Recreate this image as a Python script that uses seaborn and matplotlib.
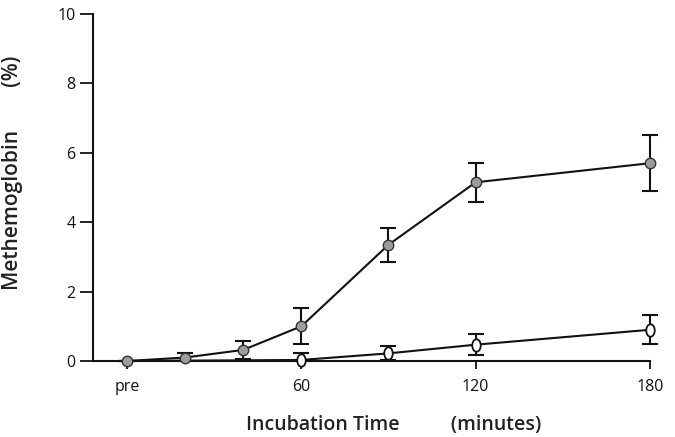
import numpy as np
import pandas as pd
import seaborn as sns
import matplotlib
matplotlib.use("Agg")
import matplotlib.pyplot as plt
from matplotlib.path import Path
from matplotlib.transforms import Affine2D

# Incubation time points (minutes); "pre" is plotted at 0
time_treated = [0, 20, 40, 60, 90, 120, 180]
metHb_treated = [0.0, 0.1, 0.32, 1.0, 3.35, 5.15, 5.7]
err_treated = [0.0, 0.12, 0.25, 0.52, 0.49, 0.57, 0.8]

time_control = [0, 60, 90, 120, 180]
metHb_control = [0.0, 0.03, 0.22, 0.47, 0.9]
err_control = [0.0, 0.2, 0.2, 0.3, 0.42]

tick_pos = [0, 60, 120, 180]
tick_labels = ["pre", "60", "120", "180"]
ytick_pos = [0, 2, 4, 6, 8, 10]

sns.set_theme(style="ticks")
plt.rcParams["font.family"] = ["Open Sans", "DejaVu Sans"]

fig = plt.figure(figsize=(6.75, 4.37), dpi=100)
ax = fig.add_axes([93 / 675, 1 - 361 / 437, (650 - 93) / 675, (361 - 14) / 437])

df_t = pd.DataFrame({"time": time_treated, "metHb": metHb_treated})
df_c = pd.DataFrame({"time": time_control, "metHb": metHb_control})


def bounded_err(mean, err):
    # lower whisker stops at the zero baseline
    lower = [min(e, m) for m, e in zip(mean, err)]
    return [lower, err]


# tall oval marker for the control series
oval = Path.unit_circle().transformed(Affine2D().scale(0.68, 1.0))

# control series (open ovals); the "pre" point sits under the grey marker
eb = ax.errorbar(time_control, metHb_control,
                 yerr=bounded_err(metHb_control, err_control), fmt="none",
                 ecolor="#111111", elinewidth=1.5, capsize=6, capthick=1.5, zorder=2)
sns.lineplot(data=df_c, x="time", y="metHb", ax=ax, color="#111111",
             linewidth=1.5, marker=oval, markersize=9, markerfacecolor="white",
             markeredgecolor="#111111", markeredgewidth=1.3, zorder=3,
             markevery=list(range(1, len(time_control))), clip_on=False)

# treated series (grey filled circles)
eb2 = ax.errorbar(time_treated, metHb_treated,
                  yerr=bounded_err(metHb_treated, err_treated), fmt="none",
                  ecolor="#111111", elinewidth=1.5, capsize=6, capthick=1.5, zorder=4)
sns.lineplot(data=df_t, x="time", y="metHb", ax=ax, color="#111111",
             linewidth=1.5, marker="o", markersize=7.5, markerfacecolor="#9c9c9c",
             markeredgecolor="#333333", markeredgewidth=1.0, zorder=5, clip_on=False)

for container in (eb, eb2):
    for art in list(container.lines[1]) + list(container.lines[2]):
        art.set_clip_on(False)

ax.set_xlim(-11.7, 180)
ax.set_ylim(0, 10)
ax.set_xticks(tick_pos)
ax.set_xticklabels(tick_labels)
ax.set_yticks(ytick_pos)
ax.tick_params(axis="y", direction="out", length=9.5, width=1.3, pad=3,
               labelsize=11.5, colors="#111111")
ax.tick_params(axis="x", direction="out", length=6, width=1.3, pad=7,
               labelsize=11.5, colors="#111111")
for s in ["top", "right"]:
    ax.spines[s].set_visible(False)
for s in ["left", "bottom"]:
    ax.spines[s].set_linewidth(1.5)
    ax.spines[s].set_color("#111111")

ax.set_xlabel("Incubation Time          (minutes)", fontsize=14,
              fontweight="semibold", color="#222222")
ax.set_ylabel("Methemoglobin        (%)", fontsize=15,
              fontweight="semibold", color="#222222")
ax.xaxis.set_label_coords(0.539, -0.155)
ax.yaxis.set_label_coords(-0.126, 0.542)

fig.savefig("out.png", dpi=100, facecolor="white")
